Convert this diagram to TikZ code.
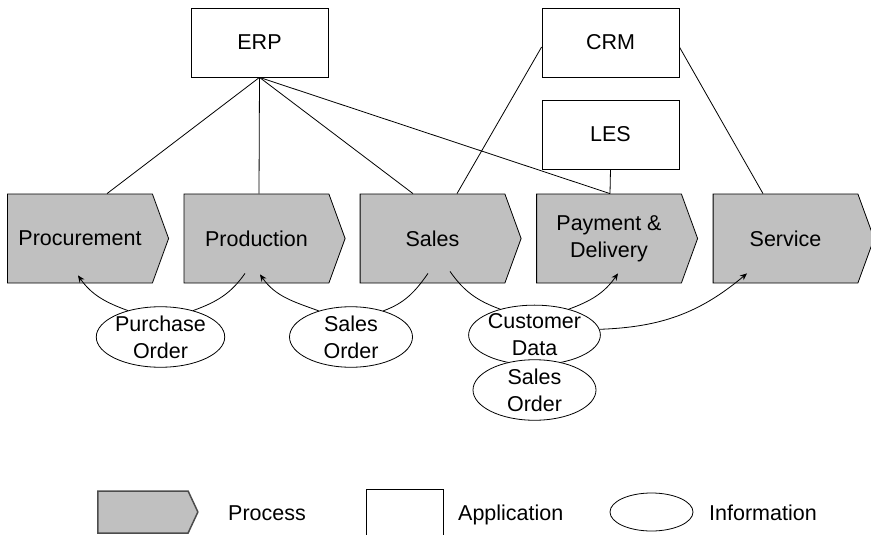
\documentclass[tikz,border=0pt]{standalone}
\usepackage{fontspec}
\setmainfont{Liberation Sans}
\usetikzlibrary{shapes.symbols,shapes.geometric,arrows.meta}
\definecolor{procgray}{RGB}{192,192,192}

\begin{document}
\begin{tikzpicture}[x=1pt,y=1pt,
    font=\fontsize{21.5}{27}\selectfont,
    proc/.style={shape=signal, signal to=east, signal pointer angle=140,
        draw, fill=procgray, line width=0.8pt, minimum width=161pt,
        minimum height=89pt, inner sep=0pt, align=center},
    app/.style={draw, line width=0.8pt, minimum width=137pt,
        minimum height=69pt, inner sep=0pt},
    info/.style={ellipse, draw, fill=white, line width=0.8pt,
        minimum width=123pt, minimum height=60pt, inner sep=0pt, align=center},
    flow/.style={line width=0.8pt},
    tip/.style={-{Stealth[length=7pt,width=6pt]}},
    legend/.style={anchor=base west, inner sep=0pt}]
\useasboundingbox (0,0) rectangle (871,-535);

% applications
\node[app] (ERP) at (259.5,-42.5) {ERP};
\node[app] (CRM) at (610.5,-42.5) {CRM};
\node[app] (LES) at (610.5,-134.5) {LES};

% processes
\node[proc] (P1) at (80,-238.5) {Procurement};
\node[proc] (P2) at (256.5,-238.5) {Production};
\node[proc] (P3) at (432.5,-238.5) {Sales};
\node[proc] (P4) at (609,-238.5) {Payment \&\\Delivery};
\node[proc] (P5) at (785.5,-238.5) {Service};

% which application supports which process
\draw[flow] (ERP.south) -- ([xshift=27pt]P1.north);
\draw[flow] (ERP.south) -- ([xshift=2.5pt]P2.north);
\draw[flow] (ERP.south) -- ([xshift=-19.5pt]P3.north);
\draw[flow] (ERP.south) -- ([xshift=1pt]P4.north);
\draw[flow] ([yshift=-4.5pt]CRM.west) -- ([xshift=24.5pt]P3.north);
\draw[flow] ([yshift=-4.5pt]CRM.east) -- ([xshift=-22.5pt]P5.north);
\draw[flow] (LES.south) -- ([xshift=1pt]P4.north);

% information passed between processes
\node[info] (PO) at (160.5,-337) {Purchase\\Order};
\node[info] (SO1) at (351,-337) {Sales\\Order};
\node[info, minimum height=57pt] (CD) at (534.5,-335) {Customer\\Data};
\node[info] (SO2) at (534.5,-390) {Sales\\Order};

\draw[flow,tip] (PO.141) to[out=160,in=-55] ([xshift=-2pt,yshift=8pt]P1.south);
\draw[flow] ([xshift=-11.5pt,yshift=10pt]P2.south) to[out=-125,in=20] (PO.39);
\draw[flow,tip] (SO1.141) to[out=160,in=-55] ([xshift=3.5pt,yshift=9pt]P2.south);
\draw[flow] ([xshift=-4.5pt,yshift=10pt]P3.south) to[out=-125,in=20] (SO1.39);
\draw[flow] ([xshift=17.5pt,yshift=12pt]P3.south) to[out=-55,in=160] (CD.143);
\draw[flow,tip] (CD.37) to[out=20,in=-125] ([xshift=9pt,yshift=10pt]P4.south);
\draw[flow,tip] (CD.5) to[out=2,in=-140] ([xshift=-38.5pt,yshift=10pt]P5.south);

% legend
\node[proc, signal pointer angle=130, minimum width=100pt, minimum height=42pt,
    draw=black!70, line width=1.5pt] (LP) at (143,-512) {};
\node[legend] (LPt) at (228,-520) {Process};
\node[app, minimum width=77pt, minimum height=50pt, anchor=north west] (LA) at (366,-489) {};
\node[legend] (LAt) at (458,-520) {Application};
\node[info, minimum width=83pt, minimum height=38pt] (LI) at (651.5,-512) {};
\node[legend] (LIt) at (709,-520) {Information};
\end{tikzpicture}
\end{document}
